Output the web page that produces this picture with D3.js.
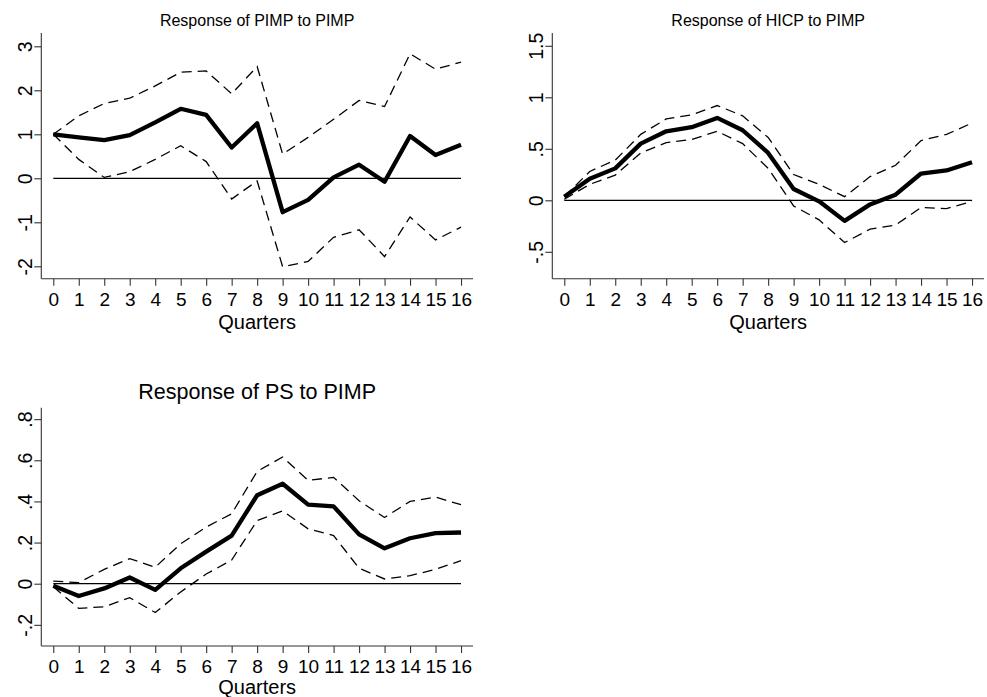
<!DOCTYPE html>
<html>
<head>
<meta charset="utf-8">
<script src="https://cdn.jsdelivr.net/npm/d3@7"></script>
<style>
html,body{margin:0;padding:0;background:#fff;}
svg{display:block;font-family:"Liberation Sans",Arial,Helvetica,sans-serif;}
</style>
</head>
<body>
<svg id="chart" width="987" height="697"></svg>
<script>
// ---- data ----
const quarters = [0,1,2,3,4,5,6,7,8,9,10,11,12,13,14,15,16];
const quarterLabels = quarters.map(String);

const pimpIrf = [1.0,0.93,0.87,0.98,1.27,1.58,1.44,0.70,1.25,-0.77,-0.49,0.02,0.31,-0.08,0.96,0.53,0.76];
const pimpHi  = [1.0,1.42,1.70,1.82,2.10,2.41,2.44,1.92,2.54,0.55,0.93,1.34,1.77,1.63,2.83,2.48,2.64];
const pimpLo  = [1.0,0.43,0.02,0.15,0.43,0.74,0.38,-0.47,-0.06,-2.01,-1.89,-1.34,-1.17,-1.78,-0.88,-1.40,-1.11];

const hicpIrf = [0.035,0.21,0.31,0.55,0.67,0.71,0.80,0.68,0.46,0.11,-0.01,-0.20,-0.04,0.055,0.26,0.29,0.37];
const hicpHi  = [0.035,0.28,0.39,0.64,0.79,0.83,0.92,0.82,0.61,0.25,0.155,0.035,0.23,0.34,0.58,0.64,0.75];
const hicpLo  = [0.01,0.155,0.245,0.46,0.56,0.59,0.67,0.55,0.31,-0.055,-0.19,-0.41,-0.28,-0.24,-0.07,-0.08,-0.01];

const psIrf = [-0.01,-0.06,-0.023,0.03,-0.03,0.075,0.156,0.234,0.43,0.486,0.384,0.376,0.24,0.172,0.221,0.246,0.249];
const psHi  = [0.013,0.005,0.07,0.122,0.08,0.194,0.275,0.34,0.546,0.616,0.502,0.517,0.403,0.322,0.40,0.421,0.384];
const psLo  = [-0.015,-0.12,-0.112,-0.068,-0.14,-0.04,0.047,0.115,0.307,0.354,0.267,0.234,0.075,0.023,0.039,0.07,0.112];

const pimpTicks = [-2,-1,0,1,2,3];
const pimpTickLabels = ["-2","-1","0","1","2","3"];
const hicpTicks = [-0.5,0,0.5,1,1.5];
const hicpTickLabels = ["-.5","0",".5","1","1.5"];
const psTicks = [-0.2,0,0.2,0.4,0.6,0.8];
const psTickLabels = ["-.2","0",".2",".4",".6",".8"];

const titles = ["Response of PIMP to PIMP","Response of HICP to PIMP","Response of PS to PIMP"];
const xTitle = "Quarters";

// ---- drawing ----
const svg = d3.select("#chart");
const FONT = '"Liberation Sans",Arial,Helvetica,sans-serif';

function panel(cfg){
  const g = svg.append("g");
  const x = d3.scaleLinear().domain([-0.47,16.47]).range([cfg.left, cfg.right]);
  const y = d3.scaleLinear().domain(cfg.ydom).range([cfg.bottom, cfg.top]);

  // title
  g.append("text").attr("x", (x(0)+x(16))/2).attr("y", cfg.titleY)
    .attr("text-anchor","middle").style("font-size", cfg.titleSize+"px").attr("fill","#000")
    .style("font-family",FONT).text(cfg.title);

  // y axis
  const ya = g.append("g").attr("transform",`translate(${cfg.left},0)`)
    .call(d3.axisLeft(y).tickValues(cfg.yticks).tickFormat((d,i)=>cfg.ylabels[i]).tickSize(7).tickPadding(0));
  ya.select(".domain").attr("stroke","#333").attr("stroke-width",1.1).attr("d",`M0,${cfg.top}V${cfg.bottom}`);
  ya.selectAll(".tick line").attr("stroke","#333").attr("stroke-width",1.1);
  ya.selectAll(".tick text").style("font-size","19.5px").attr("fill","#000")
    .style("font-family",FONT)
    .attr("x",null).attr("dy",null)
    .attr("text-anchor","middle")
    .attr("transform","translate(-9,0) rotate(-90)");

  // x axis
  const xa = g.append("g").attr("transform",`translate(0,${cfg.bottom})`)
    .call(d3.axisBottom(x).tickValues(quarters).tickFormat((d,i)=>quarterLabels[i]).tickSize(7).tickPadding(7));
  xa.select(".domain").attr("stroke","#333").attr("stroke-width",1.1).attr("d",`M${cfg.left},0H${cfg.right}`);
  xa.selectAll(".tick line").attr("stroke","#333").attr("stroke-width",1.1);
  xa.selectAll(".tick text").style("font-size","19px").attr("fill","#000")
    .style("font-family",FONT);

  g.append("text").attr("x",(x(0)+x(16))/2).attr("y",cfg.bottom+cfg.xTitleOff)
    .attr("text-anchor","middle").style("font-size","20px").style("font-family",FONT)
    .attr("fill","#000").text(xTitle);

  // zero line
  g.append("line").attr("x1",x(0)).attr("x2",x(16)).attr("y1",y(0)).attr("y2",y(0))
    .attr("stroke","#000").attr("stroke-width",1.3);

  const line = d3.line().x((d,i)=>x(quarters[i])).y(d=>y(d));
  [cfg.hi, cfg.lo].forEach(s=>{
    g.append("path").datum(s).attr("d",line).attr("fill","none")
      .attr("stroke","#000").attr("stroke-width",1.3).attr("stroke-dasharray","10,6");
  });
  g.append("path").datum(cfg.irf).attr("d",line).attr("fill","none")
    .attr("stroke","#000").attr("stroke-width",4.3).attr("stroke-linejoin","round");
}

panel({title:titles[0], titleY:26, titleSize:16, left:41.3, right:473, top:33, bottom:278.7,
  ydom:[-(278.7-178.3)/44, (178.3-33)/44], yticks:pimpTicks, ylabels:pimpTickLabels,
  irf:pimpIrf, hi:pimpHi, lo:pimpLo, xTitleOff:50});
panel({title:titles[1], titleY:26, titleSize:16, left:552.3, right:984, top:33, bottom:278.7,
  ydom:[-(278.7-200.3)/103, (200.3-33)/103], yticks:hicpTicks, ylabels:hicpTickLabels,
  irf:hicpIrf, hi:hicpHi, lo:hicpLo, xTitleOff:50});
panel({title:titles[2], titleY:399, titleSize:21.5, left:41.3, right:473, top:407.7, bottom:646,
  ydom:[-(646-583.7)/205.7, (583.7-407.7)/205.7], yticks:psTicks, ylabels:psTickLabels,
  irf:psIrf, hi:psHi, lo:psLo, xTitleOff:48});
</script>
</body>
</html>
